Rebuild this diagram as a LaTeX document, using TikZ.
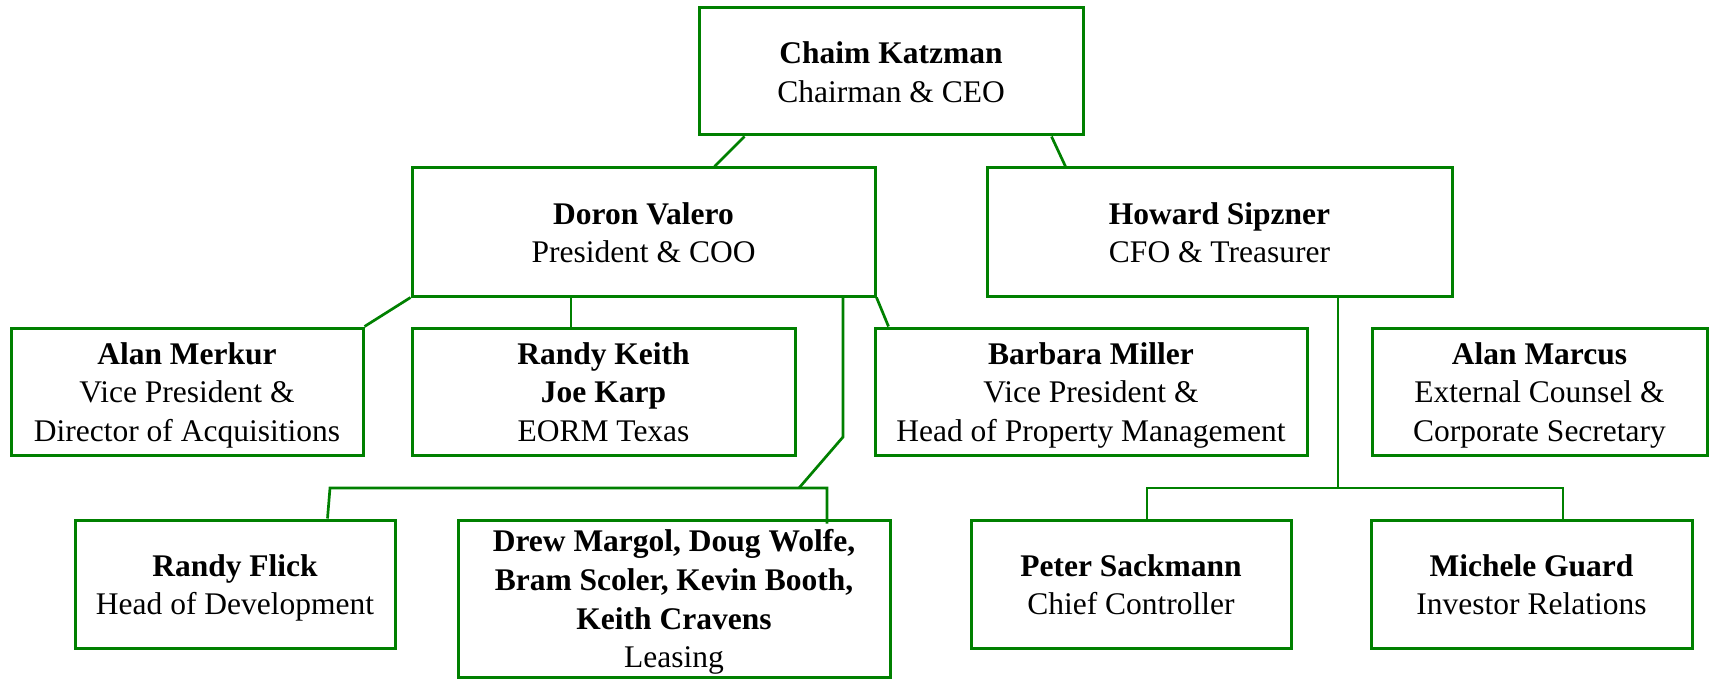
\documentclass[tikz,border=0pt]{standalone}
\usepackage{fontspec}
\setmainfont{Liberation Serif}
\usetikzlibrary{calc}
\definecolor{orggreen}{RGB}{0,128,0}
\newcommand\boxtext[1]{\raisebox{-1.8pt}[\height][\depth]{\begin{tabular}{@{}c@{}}#1\end{tabular}}}
\begin{document}
\begin{tikzpicture}[x=0.5pt,y=-0.5pt,
  box/.style={draw=orggreen,line width=1.5pt,rectangle,inner sep=0pt,
    font=\fontsize{15.75}{19.3}\selectfont},
  link/.style={draw=orggreen,line width=1.35pt,line join=miter}]
\useasboundingbox (0,0) rectangle (1712,679);

% level 0
\node[box,minimum width=192pt,minimum height=63.5pt] (ceo) at (891,71.5)
  {\boxtext{\textbf{Chaim Katzman}\\Chairman \& CEO}};
% level 1
\node[box,minimum width=231.5pt,minimum height=64pt] (doron) at (643.5,232)
  {\boxtext{\textbf{Doron Valero}\\President \& COO}};
\node[box,minimum width=232.5pt,minimum height=64pt] (howard) at (1219.5,232)
  {\boxtext{\textbf{Howard Sipzner}\\CFO \& Treasurer}};
% level 2
\node[box,minimum width=176pt,minimum height=63.5pt] (merkur) at (187,391.5)
  {\boxtext{\textbf{Alan Merkur}\\Vice President \&\\Director of Acquisitions}};
\node[box,minimum width=191.5pt,minimum height=63.5pt] (keith) at (603.5,391.5)
  {\boxtext{\textbf{Randy Keith}\\\textbf{Joe Karp}\\EORM Texas}};
\node[box,minimum width=216pt,minimum height=63.5pt] (barbara) at (1091,391.5)
  {\boxtext{\textbf{Barbara Miller}\\Vice President \&\\Head of Property Management}};
\node[box,minimum width=167.5pt,minimum height=63.5pt] (marcus) at (1539.5,391.5)
  {\boxtext{\textbf{Alan Marcus}\\External Counsel \&\\Corporate Secretary}};
% level 3
\node[box,minimum width=160pt,minimum height=64pt] (flick) at (235,584)
  {\boxtext{\textbf{Randy Flick}\\Head of Development}};
\node[box,minimum width=216pt,minimum height=78.5pt] (drew) at (674,598.5)
  {\boxtext{\textbf{Drew Margol, Doug Wolfe,}\\\textbf{Bram Scoler, Kevin Booth,}\\\textbf{Keith Cravens}\\Leasing}};
\node[box,minimum width=160pt,minimum height=64pt] (peter) at (1131,584)
  {\boxtext{\textbf{Peter Sackmann}\\Chief Controller}};
\node[box,minimum width=160.5pt,minimum height=64pt] (michele) at (1531.5,584)
  {\boxtext{\textbf{Michele Guard}\\Investor Relations}};

% helper coordinates
\coordinate (kx) at (571,0);
\coordinate (lx) at (843,0);
\coordinate (lj) at (843,437);
\coordinate (lh) at (799,488);
\coordinate (lleft) at (330,488);
\coordinate (lright) at (827,488);
\coordinate (hx) at (1338,488);
\coordinate (hleft) at (1147,488);
\coordinate (hright) at (1563,488);

% connectors
\draw[link] ($(ceo.south west)+(47,0)$) -- ($(doron.north west)+(304,0)$);
\draw[link] ($(ceo.south west)+(354,0)$) -- ($(howard.north west)+(80,0)$);
\draw[link] (doron.south west) -- (merkur.north east);
\draw[link] (kx |- doron.south) -- (kx |- keith.north);
\draw[link] (doron.south east) -- ($(barbara.north west)+(15,0)$);
\draw[link] (lx |- doron.south) -- (lj) -- (lh);
\draw[link] ($(flick.north west)+(254,0)$) -- (lleft) -- (lright) -- ($(lright |- drew.north)+(0,5)$);
\draw[link] (hx |- howard.south) -- (hx);
\draw[link] (hleft |- peter.north) -- (hleft) -- (hright) -- (hright |- michele.north);
\end{tikzpicture}
\end{document}
